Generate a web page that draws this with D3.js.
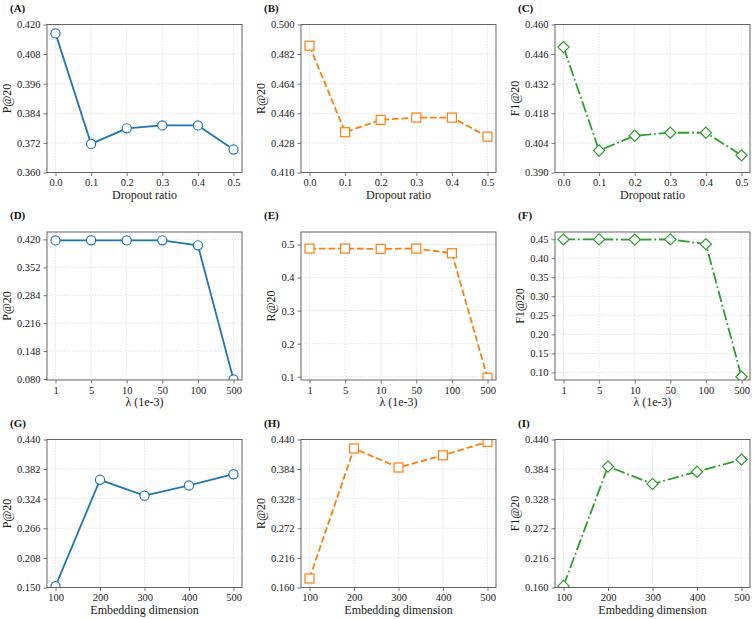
<!DOCTYPE html>
<html><head><meta charset="utf-8">
<script src="https://cdn.jsdelivr.net/npm/d3@7"></script>
<style>body{margin:0;background:#fff}svg{display:block}</style>
</head><body>
<svg id="chart" width="755" height="619"></svg>
<script>
// ---- data ----
const dropoutRatios = [0.0, 0.1, 0.2, 0.3, 0.4, 0.5];
const lambdaLabels = ["1", "5", "10", "50", "100", "500"];
const embedDims = [100, 200, 300, 400, 500];

const pDropout  = [0.4164, 0.3716, 0.3779, 0.3791, 0.3791, 0.3693];
const rDropout  = [0.4871, 0.4345, 0.4420, 0.4434, 0.4434, 0.4318];
const f1Dropout = [0.4493, 0.4004, 0.4074, 0.4088, 0.4088, 0.3981];

const pLambda  = [0.4176, 0.4178, 0.4176, 0.4177, 0.4055, 0.0790];
const rLambda  = [0.4878, 0.4878, 0.4868, 0.4878, 0.4737, 0.0970];
const f1Lambda = [0.4495, 0.4495, 0.4490, 0.4495, 0.4370, 0.0885];

const pEmbed  = [0.1526, 0.361, 0.330, 0.350, 0.372];
const rEmbed  = [0.177, 0.423, 0.387, 0.410, 0.4356];
const f1Embed = [0.163, 0.389, 0.356, 0.379, 0.402];

const ticksA = [0.360, 0.372, 0.384, 0.396, 0.408, 0.420];
const ticksB = [0.410, 0.428, 0.446, 0.464, 0.482, 0.500];
const ticksC = [0.390, 0.404, 0.418, 0.432, 0.446, 0.460];
const ticksD = [0.080, 0.148, 0.216, 0.284, 0.352, 0.420];
const ticksE = [0.1, 0.2, 0.3, 0.4, 0.5];
const ticksF = [0.10, 0.15, 0.20, 0.25, 0.30, 0.35, 0.40, 0.45];
const ticksG = [0.150, 0.208, 0.266, 0.324, 0.382, 0.440];
const ticksH = [0.160, 0.216, 0.272, 0.328, 0.384, 0.440];
const ticksI = [0.160, 0.216, 0.272, 0.328, 0.384, 0.440];

const panelLabels = ["(A)", "(B)", "(C)", "(D)", "(E)", "(F)", "(G)", "(H)", "(I)"];
const metricLabels = ["P@20", "R@20", "F1@20"];
const xLabels = ["Dropout ratio", "λ (1e-3)", "Embedding dimension"];

// ---- layout / style ----
const colLeft = [47, 301, 555];
const rowTop = [24.5, 232, 439.5];
const PW = 195, PH = 148, PAD = 8.5;
const colors = ["#1f77b4", "#ff7f0e", "#2ca02c"];
const dashes = [null, "6.6,2.9", "11.5,2.9,1.8,2.9"];
const markers = ["circle", "square", "diamond"];
const FONT = "'Liberation Serif','Times New Roman',serif";

const panels = [
  {vals: pDropout,  ticks: ticksA, dom: [0.36, 0.42],     fmt: ".3f", xt: "dropout"},
  {vals: rDropout,  ticks: ticksB, dom: [0.41, 0.50],     fmt: ".3f", xt: "dropout"},
  {vals: f1Dropout, ticks: ticksC, dom: [0.39, 0.46],     fmt: ".3f", xt: "dropout"},
  {vals: pLambda,   ticks: ticksD, dom: [0.0776, 0.438],  fmt: ".3f", xt: "lambda"},
  {vals: rLambda,   ticks: ticksE, dom: [0.09, 0.538],    fmt: ".1f", xt: "lambda"},
  {vals: f1Lambda,  ticks: ticksF, dom: [0.080, 0.469],   fmt: ".2f", xt: "lambda"},
  {vals: pEmbed,    ticks: ticksG, dom: [0.15, 0.44],     fmt: ".3f", xt: "embed"},
  {vals: rEmbed,    ticks: ticksH, dom: [0.16, 0.44],     fmt: ".3f", xt: "embed"},
  {vals: f1Embed,   ticks: ticksI, dom: [0.16, 0.44],     fmt: ".3f", xt: "embed"}
];

const svg = d3.select("#chart");
const defs = svg.append("defs");

panels.forEach((p, i) => {
  const r = Math.floor(i / 3), c = i % 3;
  const L = colLeft[c], T = rowTop[r];
  const g = svg.append("g").attr("transform", `translate(${L},${T})`);

  let x, xs, xTickVals, xTickFmt;
  if (p.xt === "dropout") {
    x = d3.scaleLinear().domain([0, 0.5]).range([PAD, PW - PAD]);
    xs = dropoutRatios; xTickVals = dropoutRatios; xTickFmt = d3.format(".1f");
  } else if (p.xt === "lambda") {
    x = d3.scalePoint().domain(lambdaLabels).range([PAD, PW - PAD]);
    xs = lambdaLabels; xTickVals = lambdaLabels; xTickFmt = d => d;
  } else {
    x = d3.scaleLinear().domain([100, 500]).range([PAD, PW - PAD]);
    xs = embedDims; xTickVals = embedDims; xTickFmt = d3.format("d");
  }
  const y = d3.scaleLinear().domain(p.dom).range([PH, 0]);

  // grid
  const grid = g.append("g").attr("stroke", "#d9d9d9").attr("stroke-width", 0.8).attr("stroke-dasharray", "1.2,1.6");
  xTickVals.forEach(v => grid.append("line").attr("x1", x(v)).attr("x2", x(v)).attr("y1", 0).attr("y2", PH));
  p.ticks.forEach(v => grid.append("line").attr("x1", 0).attr("x2", PW).attr("y1", y(v)).attr("y2", y(v)));

  // clip
  const cid = "clip" + i;
  defs.append("clipPath").attr("id", cid).append("rect").attr("width", PW).attr("height", PH);
  const plot = g.append("g").attr("clip-path", `url(#${cid})`);

  const pts = xs.map((xv, k) => [x(xv), y(p.vals[k])]);
  plot.append("path").attr("d", d3.line()(pts)).attr("fill", "none")
    .attr("stroke", colors[c]).attr("stroke-width", 1.8)
    .attr("stroke-dasharray", dashes[c]).attr("stroke-linejoin", "round");

  const m = markers[c];
  pts.forEach(pt => {
    if (m === "circle") {
      plot.append("circle").attr("cx", pt[0]).attr("cy", pt[1]).attr("r", 4.6)
        .attr("fill", "#fff").attr("stroke", colors[c]).attr("stroke-width", 1.2);
    } else if (m === "square") {
      plot.append("rect").attr("x", pt[0] - 4.5).attr("y", pt[1] - 4.5).attr("width", 9).attr("height", 9)
        .attr("fill", "#fff").attr("stroke", colors[c]).attr("stroke-width", 1.2);
    } else {
      const s = 5.6;
      plot.append("path").attr("d", `M${pt[0]},${pt[1]-s}L${pt[0]+s},${pt[1]}L${pt[0]},${pt[1]+s}L${pt[0]-s},${pt[1]}Z`)
        .attr("fill", "#fff").attr("stroke", colors[c]).attr("stroke-width", 1.2);
    }
  });

  // axes
  const xa = g.append("g").attr("transform", `translate(0,${PH})`)
    .call(d3.axisBottom(x).tickValues(xTickVals).tickFormat(xTickFmt).tickSize(3.5).tickPadding(3));
  const ya = g.append("g")
    .call(d3.axisLeft(y).tickValues(p.ticks).tickFormat(d3.format(p.fmt)).tickSize(3.5).tickPadding(3));
  [xa, ya].forEach(a => {
    a.select(".domain").remove();
    a.selectAll(".tick line").attr("stroke", "#555").attr("stroke-width", 0.8);
    a.selectAll(".tick text").attr("fill", "#222").style("font-family", FONT).style("font-size", "10.5px");
  });

  // frame
  g.append("rect").attr("width", PW).attr("height", PH).attr("fill", "none")
    .attr("stroke", "#555").attr("stroke-width", 0.9);

  // x label
  g.append("text").attr("x", PW / 2).attr("y", PH + 26).attr("text-anchor", "middle")
    .style("font-family", FONT).style("font-size", "12px").attr("fill", "#222").text(xLabels[r]);

  // y label
  const bb = ya.node().getBBox();
  const yl = bb.x - 6;
  g.append("text").attr("transform", `translate(${yl},${PH / 2}) rotate(-90)`).attr("text-anchor", "middle")
    .style("font-family", FONT).style("font-size", "12px").attr("fill", "#222").text(metricLabels[c]);

  // panel label
  g.append("text").attr("x", -37).attr("y", -13)
    .style("font-family", FONT).style("font-size", "11px").style("font-weight", "bold").attr("fill", "#111")
    .text(panelLabels[i]);
});
</script>
</body></html>
